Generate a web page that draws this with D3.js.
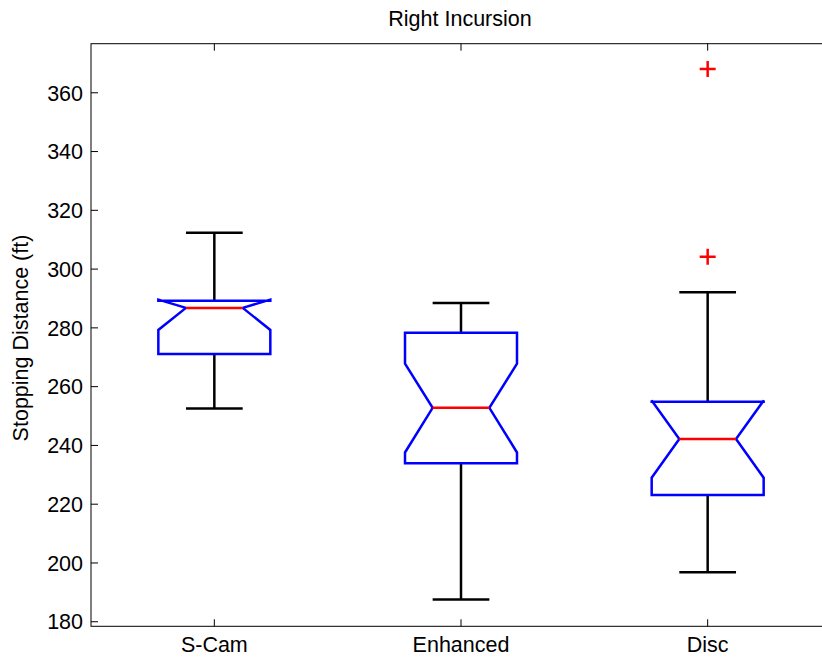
<!DOCTYPE html>
<html><head><meta charset="utf-8">
<script src="https://cdn.jsdelivr.net/npm/d3@7"></script>
<style>body{margin:0;background:#fff}svg{display:block}text{font-family:"Liberation Sans",Arial,sans-serif}</style>
</head><body>
<script>
const categories = ["S-Cam", "Enhanced", "Disc"];
const whiskerLow = [252.6, 187.6, 196.8];
const q1 = [271.1, 233.9, 223.1];
const notchLow = [279.3, 237.6, 229.0];
const median = [286.8, 252.8, 242.2];
const notchHigh = [289.6, 267.8, 255.3];
const q3 = [289.2, 278.3, 254.9];
const whiskerHigh = [312.4, 288.5, 292.1];
const outliers = [[], [], [304.2, 368.1]];
const yTicks = [180, 200, 220, 240, 260, 280, 300, 320, 340, 360];

const W = 822, H = 659;
const svg = d3.select("body").append("svg").attr("width", W).attr("height", H);
const x = d3.scaleLinear().domain([0.5, 3.5]).range([91, 831]);
const y = d3.scaleLinear().domain([178.45, 376.7]).range([626.3, 43.7]);
const FS = 21.5;

const g = svg.append("g");
g.append("rect").attr("x", x(0.5)).attr("y", y(376.7)).attr("width", x(3.5)-x(0.5)).attr("height", y(178.45)-y(376.7))
  .attr("fill", "none").attr("stroke", "#000").attr("stroke-width", 1);

const tl = 7;
yTicks.forEach(t => {
  g.append("line").attr("x1", x(0.5)).attr("x2", x(0.5)+tl).attr("y1", y(t)).attr("y2", y(t)).attr("stroke", "#000");
  g.append("text").attr("x", 83).attr("y", y(t)).attr("dy", "0.36em").attr("text-anchor", "end")
    .attr("font-size", FS).text(t);
});
categories.forEach((c, i) => {
  const cx = x(i+1);
  g.append("line").attr("x1", cx).attr("x2", cx).attr("y1", y(178.45)).attr("y2", y(178.45)-tl).attr("stroke", "#000");
  g.append("line").attr("x1", cx).attr("x2", cx).attr("y1", y(376.7)).attr("y2", y(376.7)+tl).attr("stroke", "#000");
  g.append("text").attr("x", cx).attr("y", 652).attr("text-anchor", "middle").attr("font-size", FS).text(c);
});

g.append("text").attr("x", 460).attr("y", 26).attr("text-anchor", "middle").attr("font-size", FS).text("Right Incursion");
g.append("text").attr("transform", `translate(28,338) rotate(-90)`).attr("text-anchor", "middle").attr("font-size", FS).text("Stopping Distance (ft)");

const half = 0.227, inset = 0.115;
categories.forEach((c, i) => {
  const p = i + 1;
  const L = x(p - half), R = x(p + half), Li = x(p - inset), Ri = x(p + inset), cx = x(p);
  g.append("line").attr("x1", cx).attr("x2", cx).attr("y1", y(q3[i])).attr("y2", y(whiskerHigh[i])).attr("stroke", "#000").attr("stroke-width", 2.5);
  g.append("line").attr("x1", cx).attr("x2", cx).attr("y1", y(q1[i])).attr("y2", y(whiskerLow[i])).attr("stroke", "#000").attr("stroke-width", 2.5);
  [whiskerHigh[i], whiskerLow[i]].forEach(v => {
    g.append("line").attr("x1", Li).attr("x2", Ri).attr("y1", y(v)).attr("y2", y(v)).attr("stroke", "#000").attr("stroke-width", 2.5);
  });
  const pts = [[L, y(q1[i])], [L, y(notchLow[i])], [Li, y(median[i])], [L, y(notchHigh[i])], [L, y(q3[i])],
               [R, y(q3[i])], [R, y(notchHigh[i])], [Ri, y(median[i])], [R, y(notchLow[i])], [R, y(q1[i])]];
  g.append("path").attr("d", d3.line()(pts) + "Z").attr("fill", "none").attr("stroke", "#0000ff").attr("stroke-width", 2.5).attr("stroke-linejoin", "miter").attr("stroke-miterlimit", 2);
  g.append("line").attr("x1", Li).attr("x2", Ri).attr("y1", y(median[i])).attr("y2", y(median[i])).attr("stroke", "#ff0000").attr("stroke-width", 2.5);
  outliers[i].forEach(v => {
    const oy = y(v), s = 8;
    g.append("line").attr("x1", cx - s).attr("x2", cx + s).attr("y1", oy).attr("y2", oy).attr("stroke", "#ff0000").attr("stroke-width", 2.5);
    g.append("line").attr("x1", cx).attr("x2", cx).attr("y1", oy - s).attr("y2", oy + s).attr("stroke", "#ff0000").attr("stroke-width", 2.5);
  });
});
</script>
</body></html>
